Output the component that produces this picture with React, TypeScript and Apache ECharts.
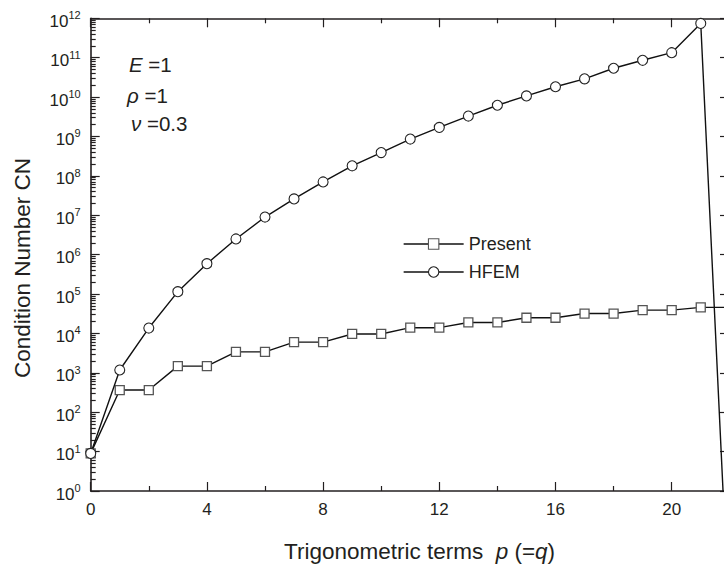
import React, { useEffect, useRef } from "react";
import * as echarts from "echarts";

// ---- data ----
const xValues = [0, 1, 2, 3, 4, 5, 6, 7, 8, 9, 10, 11, 12, 13, 14, 15, 16, 17, 18, 19, 20, 21, 22];
const presentValues = [
  9, 365, 365, 1480, 1480, 3400, 3400, 6000, 6000, 9700, 9700, 14000, 14000,
  19000, 19000, 25000, 25000, 32000, 32000, 39000, 39000, 46000, 46000,
];
const hfemValues = [
  9, 1180, 13700, 115000, 590000, 2.5e6, 9e6, 2.6e7, 7e7, 1.8e8, 3.9e8, 8.6e8,
  1.7e9, 3.3e9, 6.2e9, 1.07e10, 1.83e10, 2.9e10, 5.4e10, 8.6e10, 1.34e11, 7.4e11, 2.5e-4,
];
const seriesNames = ["Present", "HFEM"];
const xMajorTicks = [0, 4, 8, 12, 16, 20];
const xMinorTicks = [2, 6, 10, 14, 18];
const yDecadeExponents = [0, 1, 2, 3, 4, 5, 6, 7, 8, 9, 10, 11, 12];
const yMinorMultipliers = [2, 3, 4, 5, 6, 7, 8, 9];
// the figure is cropped at the right: visible x range ends a bit before 22
const xVisibleMax = 21.8;

const FONT = "Liberation Sans, Arial, sans-serif";
const TEXT = "#231f20";

export default function App() {
  const ref = useRef<HTMLDivElement>(null);

  useEffect(() => {
    if (!ref.current) return;
    const chart = echarts.init(ref.current, undefined, { renderer: "svg" });

    const yMajor = yDecadeExponents.map((e) => Math.pow(10, e));
    const yMinor: number[] = [];
    yDecadeExponents.slice(0, -1).forEach((e) => {
      yMinorMultipliers.forEach((m) => yMinor.push(m * Math.pow(10, e)));
    });

    const xBase = {
      type: "value" as const,
      gridIndex: 0,
      min: 0,
      max: xVisibleMax,
      splitLine: { show: false },
    };
    const yBase = {
      type: "log" as const,
      logBase: 10,
      gridIndex: 0,
      min: 1,
      max: 1e12,
      splitLine: { show: false },
      minorTick: { show: false },
      minorSplitLine: { show: false },
    };
    const lineStyleAxis = { color: TEXT, width: 1.6 };
    const tickStyle = { color: TEXT, width: 1.2 };

    const option: any = {
      animation: false,
      backgroundColor: "#ffffff",
      grid: { left: 90.7, top: 18.3, width: xVisibleMax * 29.05, height: 472.7, containLabel: false },
      xAxis: [
        {
          ...xBase,
          position: "bottom",
          axisLine: { show: true, onZero: false, lineStyle: lineStyleAxis },
          axisTick: { show: true, inside: true, length: 9, customValues: xMajorTicks, lineStyle: tickStyle },
          axisLabel: {
            show: true,
            customValues: xMajorTicks,
            margin: 10,
            fontSize: 17,
            fontFamily: FONT,
            color: TEXT,
          },
        },
        {
          ...xBase,
          position: "bottom",
          axisLine: { show: false, onZero: false },
          axisTick: { show: true, inside: true, length: 5, customValues: xMinorTicks, lineStyle: tickStyle },
          axisLabel: { show: false },
        },
        {
          ...xBase,
          position: "top",
          axisLine: { show: true, onZero: false, lineStyle: lineStyleAxis },
          axisTick: { show: true, inside: true, length: 9, customValues: xMajorTicks, lineStyle: tickStyle },
          axisLabel: { show: false },
        },
        {
          ...xBase,
          position: "top",
          axisLine: { show: false, onZero: false },
          axisTick: { show: true, inside: true, length: 5, customValues: xMinorTicks, lineStyle: tickStyle },
          axisLabel: { show: false },
        },
      ],
      yAxis: [
        {
          ...yBase,
          position: "left",
          axisLine: { show: true, onZero: false, lineStyle: lineStyleAxis },
          axisTick: { show: true, inside: true, length: 9, customValues: yMajor, lineStyle: tickStyle },
          axisLabel: {
            show: true,
            customValues: yMajor,
            margin: 10,
            padding: [6, 0, 0, 0],
            formatter: (v: number) => `{b|10}{s|${Math.round(Math.log10(v))}}`,
            rich: {
              b: { fontSize: 17, lineHeight: 23, fontFamily: FONT, color: TEXT },
              s: { fontSize: 11, lineHeight: 11, verticalAlign: "top", fontFamily: FONT, color: TEXT },
            },
          },
        },
        {
          ...yBase,
          position: "left",
          axisLine: { show: false, onZero: false },
          axisTick: { show: true, inside: true, length: 5, customValues: yMinor, lineStyle: tickStyle },
          axisLabel: { show: false },
        },
        {
          ...yBase,
          position: "right",
          axisLine: { show: false, onZero: false },
          axisTick: { show: true, inside: true, length: 4, customValues: yMajor, lineStyle: tickStyle },
          axisLabel: { show: false },
        },
      ],
      legend: {
        show: true,
        orient: "vertical",
        left: 398,
        top: 230,
        itemWidth: 60,
        itemHeight: 13,
        itemGap: 10,
        itemStyle: { borderWidth: 1.1 },
        lineStyle: { width: 1.3 },
        textStyle: { fontSize: 18, fontFamily: FONT, color: TEXT },
        data: seriesNames,
      },
      series: [
        {
          name: seriesNames[0],
          type: "line",
          xAxisIndex: 0,
          yAxisIndex: 0,
          data: xValues.map((x, i) => [x, presentValues[i]]),
          symbol: "rect",
          symbolSize: 9,
          showAllSymbol: true,
          lineStyle: { color: "#111", width: 1.4 },
          itemStyle: { color: "#ffffff", borderColor: "#555", borderWidth: 1.3 },
          clip: true,
          z: 2,
        },
        {
          name: seriesNames[1],
          type: "line",
          xAxisIndex: 0,
          yAxisIndex: 0,
          data: xValues.map((x, i) => [x, hfemValues[i]]),
          symbol: "circle",
          symbolSize: 10,
          showAllSymbol: true,
          lineStyle: { color: "#111", width: 1.4 },
          itemStyle: { color: "#ffffff", borderColor: "#222", borderWidth: 1.1 },
          clip: true,
          z: 3,
        },
      ],
      graphic: [
        {
          type: "text",
          x: 129,
          y: 64,
          style: {
            text: "{i|E} =1",
            fontSize: 20.5,
            fontFamily: FONT,
            fill: TEXT,
            verticalAlign: "middle",
            rich: { i: { fontStyle: "italic", fontSize: 20.5, fontFamily: FONT, fill: TEXT } },
          },
        },
        {
          type: "text",
          x: 127,
          y: 95,
          style: {
            text: "{i|ρ} =1",
            fontSize: 20.5,
            fontFamily: FONT,
            fill: TEXT,
            verticalAlign: "middle",
            rich: { i: { fontStyle: "italic", fontSize: 20.5, fontFamily: FONT, fill: TEXT } },
          },
        },
        {
          type: "text",
          x: 131,
          y: 123,
          style: {
            text: "{i|ν} =0.3",
            fontSize: 20.5,
            fontFamily: FONT,
            fill: TEXT,
            verticalAlign: "middle",
            rich: { i: { fontStyle: "italic", fontSize: 20.5, fontFamily: FONT, fill: TEXT } },
          },
        },
        {
          type: "text",
          x: 284,
          y: 551,
          style: {
            text: "Trigonometric terms  {i|p} (={i|q})",
            fontSize: 22.5,
            fontFamily: FONT,
            fill: TEXT,
            align: "left",
            verticalAlign: "middle",
            rich: { i: { fontStyle: "italic", fontSize: 22.5, fontFamily: FONT, fill: TEXT } },
          },
        },
        {
          type: "text",
          x: 22,
          y: 268,
          rotation: Math.PI / 2,
          style: {
            text: "Condition Number CN",
            fontSize: 22.5,
            fontFamily: FONT,
            fill: TEXT,
            align: "center",
            verticalAlign: "middle",
          },
        },
      ],
    };

    chart.setOption(option);
    return () => chart.dispose();
  }, []);

  return (
    <div
      ref={ref}
      style={{ position: "absolute", left: 0, top: 0, width: 724, height: 568, background: "#fff" }}
    />
  );
}
